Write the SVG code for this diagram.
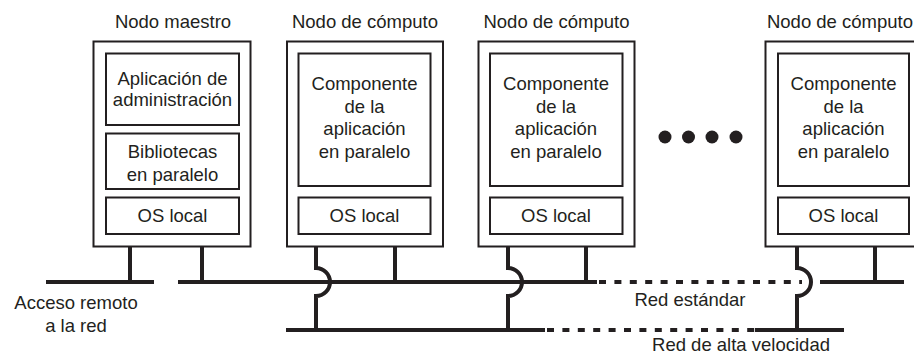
<svg xmlns="http://www.w3.org/2000/svg" width="914" height="354" viewBox="0 0 914 354">
<style>
text{font-family:"Liberation Sans",Arial,sans-serif;font-size:18.5px;fill:#231f20;text-anchor:middle}
.box{fill:none;stroke:#231f20;stroke-width:2}
.ln{fill:none;stroke:#231f20;stroke-width:4}
.dash{fill:none;stroke:#231f20;stroke-width:4;stroke-dasharray:7 8.4}
</style>
<rect width="914" height="354" fill="#fff"/>
<g id="master">
<text x="173" y="28">Nodo maestro</text>
<rect class="box" x="93.5" y="41.5" width="157" height="205"/>
<rect class="box" x="106" y="53.5" width="133" height="71.5"/>
<text x="172.5" y="84.5">Aplicación de</text>
<text x="172.5" y="106">administración</text>
<rect class="box" x="106" y="133.5" width="133" height="55.5"/>
<text x="172.5" y="157.5">Bibliotecas</text>
<text x="172.5" y="180.5">en paralelo</text>
<rect class="box" x="106" y="197.5" width="133" height="36.5"/>
<text x="172.5" y="222">OS local</text>
</g>
<g id="compute1">
<text x="365" y="28">Nodo de cómputo</text>
<rect class="box" x="287" y="41.5" width="156" height="205"/>
<rect class="box" x="298.5" y="53.5" width="132" height="132.5"/>
<text x="364.5" y="90">Componente</text>
<text x="364.5" y="112.5">de la</text>
<text x="364.5" y="135">aplicación</text>
<text x="364.5" y="157.5">en paralelo</text>
<rect class="box" x="298.5" y="197.5" width="132" height="36.5"/>
<text x="364.5" y="222">OS local</text>
</g>
<g id="compute2">
<text x="556.5" y="28">Nodo de cómputo</text>
<rect class="box" x="478.5" y="41.5" width="156" height="205"/>
<rect class="box" x="490" y="53.5" width="132.5" height="132.5"/>
<text x="556" y="90">Componente</text>
<text x="556" y="112.5">de la</text>
<text x="556" y="135">aplicación</text>
<text x="556" y="157.5">en paralelo</text>
<rect class="box" x="490" y="197.5" width="132.5" height="36.5"/>
<text x="556" y="222">OS local</text>
</g>
<g id="ellipsis">
<circle cx="665" cy="137" r="6.5" fill="#231f20"/>
<circle cx="688.5" cy="137" r="6.5" fill="#231f20"/>
<circle cx="712" cy="137" r="6.5" fill="#231f20"/>
<circle cx="736" cy="137" r="6.5" fill="#231f20"/>
</g>
<g id="computeN">
<text x="840" y="28">Nodo de cómputo</text>
<rect class="box" x="765.5" y="41.5" width="157" height="205"/>
<rect class="box" x="778" y="53.5" width="131" height="132.5"/>
<text x="843.5" y="90">Componente</text>
<text x="843.5" y="112.5">de la</text>
<text x="843.5" y="135">aplicación</text>
<text x="843.5" y="157.5">en paralelo</text>
<rect class="box" x="778" y="197.5" width="131" height="36.5"/>
<text x="843.5" y="222">OS local</text>
</g>
<g id="connectors">
<path class="ln" d="M46,282H154M130,247V282M202,247V282"/>
<path class="ln" d="M178,282H597M820,282H904"/>
<path class="dash" d="M599,282H802"/>
<path class="ln" d="M286,330H545M755,330H844"/>
<path class="dash" d="M547,330H755"/>
<path class="ln" d="M395,247V282M586,247V282M875,247V282"/>
<path class="ln" d="M316,247V268A14,14 0 0 1 316,296V330"/>
<path class="ln" d="M508,247V268A14,14 0 0 1 508,296V330"/>
<path class="ln" d="M797,247V268A14,14 0 0 1 797,296V330"/>
</g>
<g id="labels">
<text x="76" y="309">Acceso remoto</text>
<text x="76" y="332">a la red</text>
<text x="690" y="306">Red estándar</text>
<text x="741" y="351">Red de alta velocidad</text>
</g>
</svg>
